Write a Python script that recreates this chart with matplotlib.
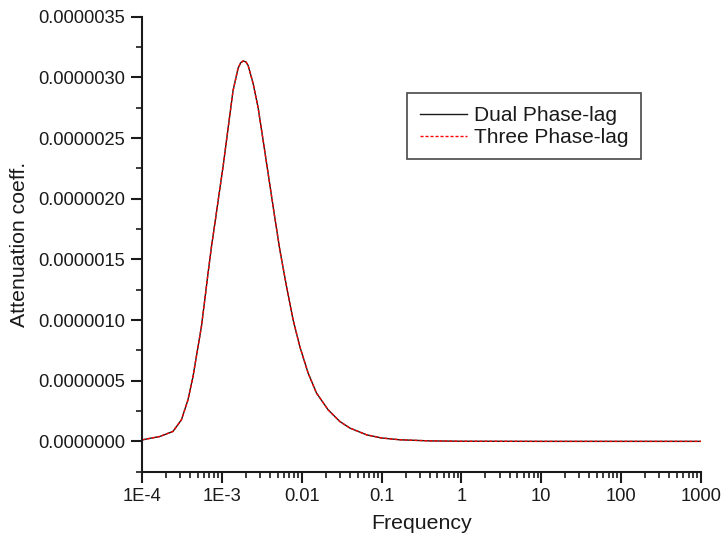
import numpy as np
import matplotlib
matplotlib.use("Agg")
import matplotlib.pyplot as plt
from matplotlib.ticker import FixedLocator, FixedFormatter, MultipleLocator, LogLocator, NullFormatter

plt.rcParams['font.family'] = ['Liberation Sans', 'DejaVu Sans']

# log10(frequency)
log_freq = [-4.0, -3.90, -3.778, -3.612, -3.506, -3.424, -3.361, -3.298, -3.256, -3.214,
            -3.173, -3.130, -3.080, -3.030, -2.985, -2.922, -2.860, -2.797, -2.765, -2.734,
            -2.700, -2.672, -2.609, -2.546, -2.484, -2.421, -2.350, -2.274, -2.190, -2.108,
            -2.024, -1.920, -1.815, -1.669, -1.523, -1.398, -1.293, -1.188, -1.00,
            -0.771, -0.4, -0.019, 1.0, 2.0, 3.0]
# attenuation coefficient (x1e-6)
dual_vals = [0.012, 0.025, 0.040, 0.082, 0.178, 0.343, 0.535, 0.782, 0.946, 1.166,
             1.386, 1.605, 1.830, 2.060, 2.264, 2.580, 2.890, 3.075, 3.120, 3.135,
             3.128, 3.100, 2.951, 2.750, 2.484, 2.210, 1.900, 1.578, 1.276, 1.002,
             0.782, 0.563, 0.398, 0.260, 0.164, 0.110, 0.082, 0.054, 0.028,
             0.013, 0.004, 0.001, 0.0, 0.0, 0.0]
three_vals = list(dual_vals)

x_ticks = [1e-4, 1e-3, 1e-2, 1e-1, 1, 10, 100, 1000]
x_tick_labels = ['1E-4', '1E-3', '0.01', '0.1', '1', '10', '100', '1000']

freq = 10.0 ** np.array(log_freq)
dual = np.array(dual_vals) * 1e-6
three = np.array(three_vals) * 1e-6

fig = plt.figure(figsize=(7.24, 5.41), dpi=100)
ax = fig.add_axes([142/724, 1 - 471.7/541, (701 - 142)/724, (471.7 - 16.7)/541])

ax.plot(freq, dual, color='#1a1a1a', lw=1.0, label='Dual Phase-lag')
ax.plot(freq, three, color='red', lw=1.0, ls=(0, (2.2, 1.4)), label='Three Phase-lag')

ax.set_xscale('log')
ax.set_xlim(1e-4, 1000)
ax.set_ylim(-2.5e-7, 3.5e-6)

ax.xaxis.set_major_locator(FixedLocator(x_ticks))
ax.xaxis.set_major_formatter(FixedFormatter(x_tick_labels))
ax.xaxis.set_minor_locator(LogLocator(base=10, subs=np.arange(2, 10), numticks=20))
ax.xaxis.set_minor_formatter(NullFormatter())

ax.yaxis.set_major_locator(MultipleLocator(5e-7))
ax.yaxis.set_minor_locator(MultipleLocator(2.5e-7))
ax.yaxis.set_major_formatter(plt.FuncFormatter(lambda v, p: '%.7f' % v if v >= -1e-12 else ''))

for s in ['top', 'right']:
    ax.spines[s].set_visible(False)
for s in ['left', 'bottom']:
    ax.spines[s].set_linewidth(1.5)
    ax.spines[s].set_color('#1a1a1a')

ax.tick_params(which='major', direction='out', length=8, width=1.5, labelsize=13.2,
               colors='#1a1a1a', pad=4)
ax.tick_params(which='minor', direction='out', length=4.5, width=1.2, colors='#1a1a1a')

ax.set_xlabel('Frequency', fontsize=15.3, color='#1a1a1a', labelpad=6)
ax.set_ylabel('Attenuation coeff.', fontsize=15.3, color='#1a1a1a', labelpad=7)

leg = ax.legend(loc='upper left', bbox_to_anchor=(407.3/724, 1 - 93.3/541),
                bbox_transform=fig.transFigure, fontsize=15, frameon=True,
                fancybox=False, edgecolor='#1a1a1a', handlelength=2.25,
                borderpad=0.6, labelspacing=0.15, handletextpad=0.35, borderaxespad=0)
leg.get_frame().set_linewidth(1.2)
for t in leg.get_texts():
    t.set_color('#1a1a1a')

fig.savefig('out.png', dpi=100)
